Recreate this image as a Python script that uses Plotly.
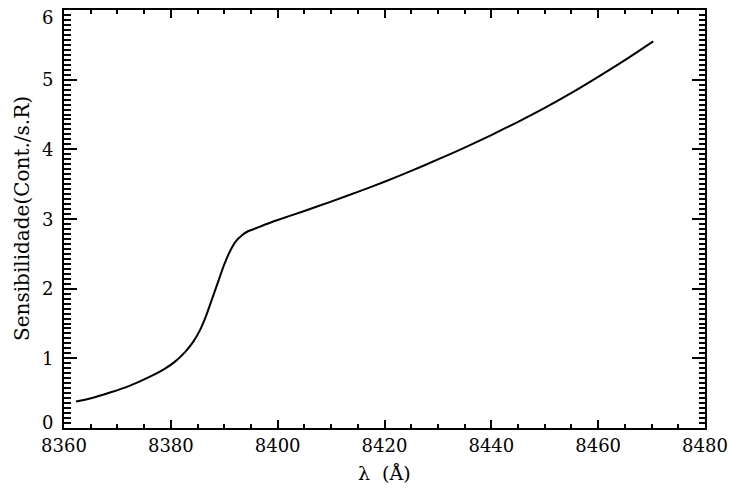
import plotly.graph_objects as go

# Wavelength (Angstrom) and sensitivity
wavelength = [8362.25, 8364.87, 8368.61, 8372.36, 8376.10, 8378.91, 8380.78, 8382.65, 8384.15, 8385.46,
              8386.58, 8387.71, 8388.83, 8389.95, 8391.08, 8392.20, 8393.32, 8394.45, 8395.95, 8397.82,
              8400.0, 8405.0, 8410.0, 8415.0, 8420.0, 8425.0, 8430.0, 8435.0, 8440.0, 8445.0,
              8450.0, 8455.0, 8460.0, 8465.0, 8470.3]
sensitivity = [0.380, 0.423, 0.509, 0.609, 0.738, 0.853, 0.953, 1.090, 1.233, 1.405,
               1.606, 1.849, 2.093, 2.337, 2.538, 2.681, 2.767, 2.824, 2.867, 2.925,
               2.985, 3.115, 3.250, 3.390, 3.535, 3.690, 3.855, 4.025, 4.205, 4.395,
               4.595, 4.810, 5.040, 5.280, 5.550]

x_tick_vals = [8360, 8380, 8400, 8420, 8440, 8460, 8480]
y_tick_vals = [0, 1, 2, 3, 4, 5, 6]
y_tick_text = ["0", "1", "2", "3", "4", "5", "6"]

FONT = "DejaVu Serif"

fig = go.Figure()
fig.add_trace(go.Scatter(
    x=wavelength, y=sensitivity, mode="lines",
    line=dict(color="black", width=2, shape="spline", smoothing=0.6),
    showlegend=False, hoverinfo="skip"))

axis_common = dict(
    showline=True, linecolor="black", linewidth=2, mirror="allticks",
    ticks="inside", tickcolor="black", tickwidth=1.5,
    showgrid=False, zeroline=False, automargin=False,
    ticklabeloverflow="allow",
    tickfont=dict(family=FONT, size=18, color="black"),
)

fig.update_xaxes(
    range=[8360, 8480], tickvals=x_tick_vals, ticklen=8,
    minor=dict(dtick=5, ticks="inside", ticklen=4, tickcolor="black", tickwidth=1.5, showgrid=False),
    **axis_common)
fig.update_yaxes(
    range=[0, 6], tickvals=y_tick_vals, ticklen=13, showticklabels=False,
    minor=dict(dtick=1/14, tick0=0, ticks="inside", ticklen=6.5, tickcolor="black", tickwidth=1.5, showgrid=False),
    **axis_common)

# plot area on page: x 64..705, y 10..428 (body margin removed by post_script)
W, H = 729, 488
L, T = 64, 10
PW, PH = 641, 418

# y tick labels (end labels kept inside the frame's height, as in the reference)
for v, t in zip(y_tick_vals, y_tick_text):
    shift = 0
    if v == y_tick_vals[0]:
        shift = 6
    elif v == y_tick_vals[-1]:
        shift = -7
    fig.add_annotation(text=t, x=(55 - L) / PW, xref="paper", xanchor="right",
                       y=v, yref="y", yanchor="middle", yshift=shift,
                       showarrow=False, font=dict(family=FONT, size=18, color="black"))

fig.add_annotation(text="Sensibilidade(Cont./s.R)", textangle=-90,
                   x=(22 - L) / PW, xref="paper", xanchor="center",
                   y=0.5, yref="paper", yanchor="middle",
                   showarrow=False, font=dict(family=FONT, size=20, color="black"))
fig.add_annotation(text="λ  (Å)",
                   x=0.5, xref="paper", xanchor="center",
                   y=-45 / PH, yref="paper", yanchor="middle",
                   showarrow=False, font=dict(family=FONT, size=19, color="black"))

fig.update_layout(
    width=W, height=H,
    margin=dict(l=L, r=W - L - PW, t=T, b=H - T - PH, autoexpand=False),
    paper_bgcolor="white", plot_bgcolor="white",
)

fig.write_html("out.html", config={"displayModeBar": False},
               post_script="document.body.style.margin='0';document.body.style.overflow='hidden';")
